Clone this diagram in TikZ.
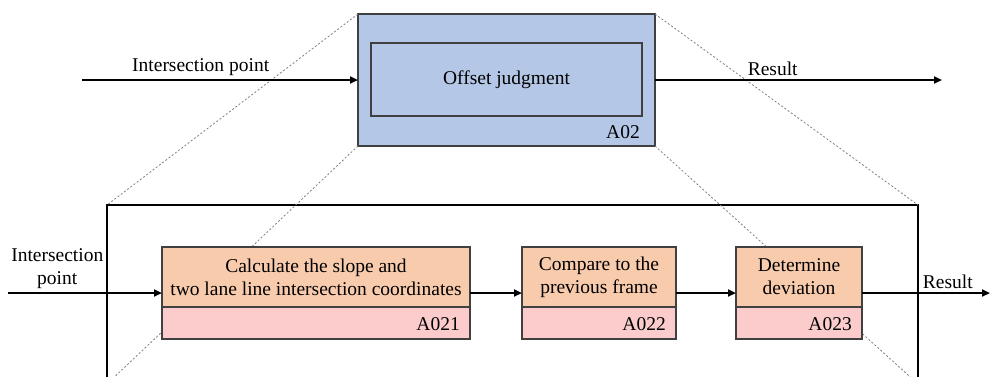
\documentclass[tikz,border=0pt]{standalone}
\usepackage{fontspec}
\setmainfont{Liberation Serif}
\usetikzlibrary{arrows.meta,positioning}
\definecolor{judgeblue}{HTML}{B4C7E7}
\definecolor{steporange}{HTML}{F8CBAD}
\definecolor{steppink}{HTML}{FCCCCC}
\definecolor{edgegray}{HTML}{404040}

\begin{document}
\begin{tikzpicture}[x=1pt,y=-1pt,
  font=\fontsize{19.5}{23}\selectfont,
  arr/.style={-{Triangle[length=8pt,width=7pt]},line width=2.7pt},
  zoomln/.style={gray,line width=0.8pt,dash pattern=on 2pt off 2pt},
  blk/.style={draw=edgegray,line width=1.3pt,minimum width=#1,inner sep=0pt,outer sep=0pt},
  proc/.style={blk=#1,fill=steppink,minimum height=92pt},
  head/.style={blk=#1,fill=steporange,minimum height=60pt,align=center,anchor=north},
  idtag/.style={anchor=base east,inner sep=0pt}]
  \path[use as bounding box,clip] (0,0) rectangle (992,376);
  % parent activity
  \node[blk=297pt,fill=judgeblue,minimum height=132pt] (a02) at (506.5,80) {};
  \node[blk=271pt,minimum height=73pt] (a02in) at (506.5,79.5) {Offset judgment};
  \node[idtag] at ([xshift=-15pt,yshift=8pt]a02.south east) {A02};
  % decomposition frame and zoom lines
  \node[draw,line width=2.8pt,minimum width=811pt,minimum height=179pt,inner sep=0pt,outer sep=0pt] (frame) at (512.5,294.5) {};
  \draw[zoomln] (a02.north west) -- (frame.north west);
  \draw[zoomln] (a02.north east) -- (frame.north east);
  \draw[zoomln] (a02.south west) -- (frame.south west);
  \draw[zoomln] (a02.south east) -- (frame.south east);
  % child activities
  \node[proc=308pt] (c1) at (316,293) {};
  \node[head=308pt] (c1h) at (c1.north) {Calculate the slope and\\two lane line intersection coordinates};
  \node[idtag] at ([xshift=-10pt,yshift=9pt]c1.south east) {A021};
  \node[proc=154pt,right=52pt of c1] (c2) {};
  \node[head=154pt] (c2h) at (c2.north) {Compare to the\\previous frame};
  \node[idtag] at ([xshift=-10pt,yshift=9pt]c2.south east) {A022};
  \node[proc=126pt,right=60pt of c2] (c3) {};
  \node[head=126pt] (c3h) at (c3.north) {Determine\\deviation};
  \node[idtag] at ([xshift=-10pt,yshift=9pt]c3.south east) {A023};
  % inputs and outputs
  \coordinate (inA) at (82,80);
  \coordinate (outA) at (942,80);
  \coordinate (inB) at (8,293);
  \coordinate (outB) at (990,293);
  \draw[arr] (inA) -- node[above,pos=0.43] {Intersection point} (a02);
  \draw[arr] (a02) -- node[above,pos=0.41] {Result} (outA);
  \draw[arr] (inB) -- node[above,align=center,pos=0.32] {Intersection\\point} (c1);
  \draw[arr] (c1) -- (c2);
  \draw[arr] (c2) -- (c3);
  \draw[arr] (c3) -- node[above,pos=0.67] {Result} (outB);
\end{tikzpicture}
\end{document}
